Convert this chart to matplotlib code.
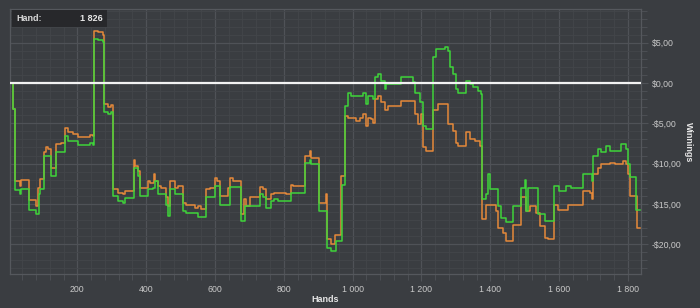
import matplotlib
matplotlib.use("Agg")
import matplotlib.pyplot as plt
from matplotlib.ticker import MultipleLocator, FuncFormatter

plt.rcParams["font.family"] = ["Liberation Sans", "DejaVu Sans"]

# ---- data ----
hands_orange = [7, 10, 13, 18, 33, 37, 59, 81, 86, 93, 103, 110, 115, 123, 137, 154, 163, 173, 188, 202,
                236, 246, 249, 260, 275, 278, 289, 297, 304, 318, 333, 338, 364, 369, 376, 381, 405, 410,
                423, 427, 434, 444, 459, 464, 468, 483, 493, 507, 517, 522, 541, 551, 560, 575, 585, 599,
                607, 614, 638, 643, 652, 677, 684, 691, 701, 730, 739, 749, 764, 773, 783, 807, 822, 827,
                861, 875, 880, 902, 924, 926, 938, 948, 967, 977, 986, 1011, 1020, 1030, 1040, 1045, 1054,
                1059, 1064, 1074, 1083, 1093, 1103, 1141, 1180, 1190, 1200, 1204, 1214, 1233, 1248, 1277,
                1292, 1301, 1306, 1330, 1340, 1355, 1369, 1377, 1388, 1418, 1422, 1437, 1447, 1466, 1490,
                1505, 1514, 1534, 1543, 1558, 1568, 1585, 1597, 1626, 1669, 1689, 1695, 1698, 1713, 1722,
                1747, 1761, 1785, 1795, 1800, 1805, 1827, 1836]
win_orange = [0, 0, -3.2, -12.2, -12.8, -12.0, -14.5, -15.2, -13.0, -11.95, -8.6, -7.9, -8.2, -10.5, -7.6,
              -7.4, -5.6, -6.1, -6.3, -6.7, -6.5, -6.6, 6.5, 6.3, 5.9, -2.6, -3.0, -2.7, -13.2, -13.6,
              -13.8, -13.4, -9.5, -10.3, -10.9, -13.0, -12.2, -12.4, -11.3, -12.2, -12.8, -13.0, -14.2,
              -15.3, -12.2, -13.0, -12.8, -14.9, -15.1, -15.1, -15.5, -15.3, -15.6, -13.2, -13.0, -11.8,
              -12.2, -14.0, -13.0, -11.8, -12.2, -16.3, -14.4, -15.3, -14.2, -12.9, -13.2, -14.4, -13.8,
              -13.6, -13.6, -13.8, -12.6, -12.8, -9.0, -8.4, -9.3, -14.9, -13.8, -19.4, -20.0, -18.8,
              -11.5, -4.1, -4.3, -4.7, -4.3, -3.9, -5.3, -4.3, -4.5, -4.9, -2.0, -1.6, -2.4, -3.4, -2.8,
              -2.2, -3.9, -5.1, -3.9, -8.0, -8.4, -3.4, -2.6, -5.1, -5.9, -7.4, -7.8, -6.1, -7.0, -7.2,
              -7.8, -16.9, -15.1, -15.9, -18.0, -18.6, -19.6, -17.6, -14.2, -15.9, -15.3, -16.1, -17.8,
              -19.2, -19.4, -15.1, -15.7, -15.1, -13.4, -13.6, -14.4, -11.3, -10.5, -10.1, -9.9, -10.1,
              -9.7, -10.1, -11.3, -14.0, -18.0, -18.0]

hands_green = [7, 10, 13, 18, 33, 37, 59, 81, 88, 93, 103, 110, 123, 137, 163, 173, 202, 236, 246, 249,
               260, 275, 278, 289, 297, 304, 318, 333, 338, 364, 376, 381, 405, 420, 427, 434, 459, 464,
               468, 483, 507, 517, 522, 551, 575, 599, 614, 643, 677, 686, 730, 739, 749, 764, 773, 783,
               822, 861, 875, 880, 902, 926, 938, 953, 969, 977, 986, 996, 1030, 1040, 1045, 1054, 1059,
               1064, 1074, 1083, 1093, 1098, 1141, 1175, 1180, 1195, 1204, 1214, 1233, 1243, 1267, 1277,
               1282, 1292, 1301, 1306, 1330, 1340, 1350, 1364, 1374, 1377, 1388, 1393, 1398, 1422, 1432,
               1447, 1466, 1490, 1500, 1505, 1509, 1539, 1558, 1568, 1585, 1601, 1621, 1635, 1669, 1695,
               1698, 1713, 1722, 1737, 1747, 1781, 1795, 1800, 1805, 1824, 1836]
win_green = [0, 0, -3.2, -13.3, -13.8, -13.2, -15.7, -16.2, -13.8, -13.2, -9.0, -9.0, -11.5, -8.6, -6.6,
             -7.2, -7.7, -7.5, -7.7, 5.5, 5.35, 5.1, -3.65, -3.9, -3.65, -14.0, -14.6, -14.9, -14.3,
             -10.5, -11.5, -14.0, -13.2, -13.0, -12.2, -13.8, -15.1, -16.5, -13.2, -13.8, -15.9, -16.1,
             -16.1, -16.6, -14.2, -12.8, -15.1, -12.9, -17.1, -15.3, -13.8, -14.2, -15.5, -14.6, -14.4,
             -14.6, -13.6, -9.9, -9.5, -10.1, -15.9, -20.5, -20.9, -19.6, -12.6, -2.8, -1.2, -1.6, -1.2,
             -2.6, -1.6, -1.6, -2.0, 0.7, 1.1, 0.3, -0.75, -0.1, 0.7, 0.1, -1.2, -2.4, -5.3, -5.7, 3.2,
             4.2, 4.5, 4.0, 1.95, 1.1, -0.75, -1.2, 0.3, -0.1, -0.5, -1.0, -1.4, -14.4, -13.8, -11.3,
             -13.2, -15.3, -16.7, -17.3, -15.3, -13.0, -12.0, -15.9, -13.0, -16.3, -17.1, -17.1, -12.8,
             -13.4, -12.8, -13.0, -11.3, -12.2, -9.0, -8.2, -8.6, -7.8, -8.4, -7.6, -8.2, -10.1, -11.7,
             -15.7, -15.7]

hand_label = "Hand:"
hand_value = "1 826"
x_title = "Hands"
y_title = "Winnings"

# ---- style ----
BG = "#3a3d41"
GRID_MAJOR = "#4f5257"
GRID_MINOR = "#43464a"
TXT = "#c9c9c9"
GREEN = "#3fd43a"
ORANGE = "#e5893a"

fig = plt.figure(figsize=(7.0, 3.08), dpi=100, facecolor=BG)
ax = fig.add_axes([10 / 700, 1 - 274 / 308, (640.7 - 10) / 700, (274 - 9.3) / 308])
ax.set_facecolor(BG)

ax.plot(hands_orange, win_orange, color=ORANGE, lw=1.1, drawstyle="steps-post", zorder=3)
ax.plot(hands_green, win_green, color=GREEN, lw=1.1, drawstyle="steps-post", zorder=4)
ax.axhline(0, color="#f2f2f2", lw=1.6, zorder=5)

ax.set_xlim(4.5, 1837)
ax.set_ylim(-23.7, 9.15)

ax.xaxis.set_major_locator(MultipleLocator(200))
ax.xaxis.set_minor_locator(MultipleLocator(40))
ax.yaxis.set_major_locator(MultipleLocator(5))
ax.yaxis.set_minor_locator(MultipleLocator(1))

ax.grid(which="major", color=GRID_MAJOR, lw=0.9, zorder=0)
ax.grid(which="minor", color=GRID_MINOR, lw=0.6, zorder=0)
ax.set_axisbelow(True)

def xfmt(v, pos):
    return f"{int(round(v)):,}".replace(",", " ")

def yfmt(v, pos):
    s = f"${abs(v):.2f}".replace(".", ",")
    return ("-" + s) if v < -1e-9 else s

ax.xaxis.set_major_formatter(FuncFormatter(xfmt))
ax.yaxis.set_major_formatter(FuncFormatter(yfmt))
ax.yaxis.tick_right()

ax.tick_params(axis="both", which="both", colors=GRID_MAJOR, labelcolor=TXT, labelsize=6.3)
ax.tick_params(axis="y", which="major", length=5, width=0.8, pad=3)
ax.tick_params(axis="y", which="minor", length=4, width=0.6)
ax.tick_params(axis="x", which="major", length=5, width=0.8, pad=3)
ax.tick_params(axis="x", which="minor", length=4, width=0.6)

for sp in ax.spines.values():
    sp.set_color("#55585d")
    sp.set_linewidth(0.9)

# axis titles
fig.text(325 / 700, 1 - 300 / 308, x_title, color="#e6e6e6", fontsize=6.5, fontweight="bold",
         ha="center", va="center")
fig.text(688 / 700, 1 - 142 / 308, y_title, color="#e6e6e6", fontsize=6.5, fontweight="bold",
         ha="center", va="center", rotation=270)

# tooltip-like box
fig.patches.append(plt.Rectangle((12 / 700, 1 - 27 / 308), 95 / 700, 17 / 308,
                                 transform=fig.transFigure, facecolor="#27282b",
                                 edgecolor="none", zorder=10))
fig.text(16 / 700, 1 - 18.5 / 308, hand_label, color="#d8d8d8", fontsize=6.5,
         fontweight="bold", va="center", ha="left", zorder=11)
fig.text(103 / 700, 1 - 18.5 / 308, hand_value, color="#e8e8e8", fontsize=6.5,
         fontweight="bold", va="center", ha="right", zorder=11)

fig.savefig("out.png", dpi=100, facecolor=BG)
